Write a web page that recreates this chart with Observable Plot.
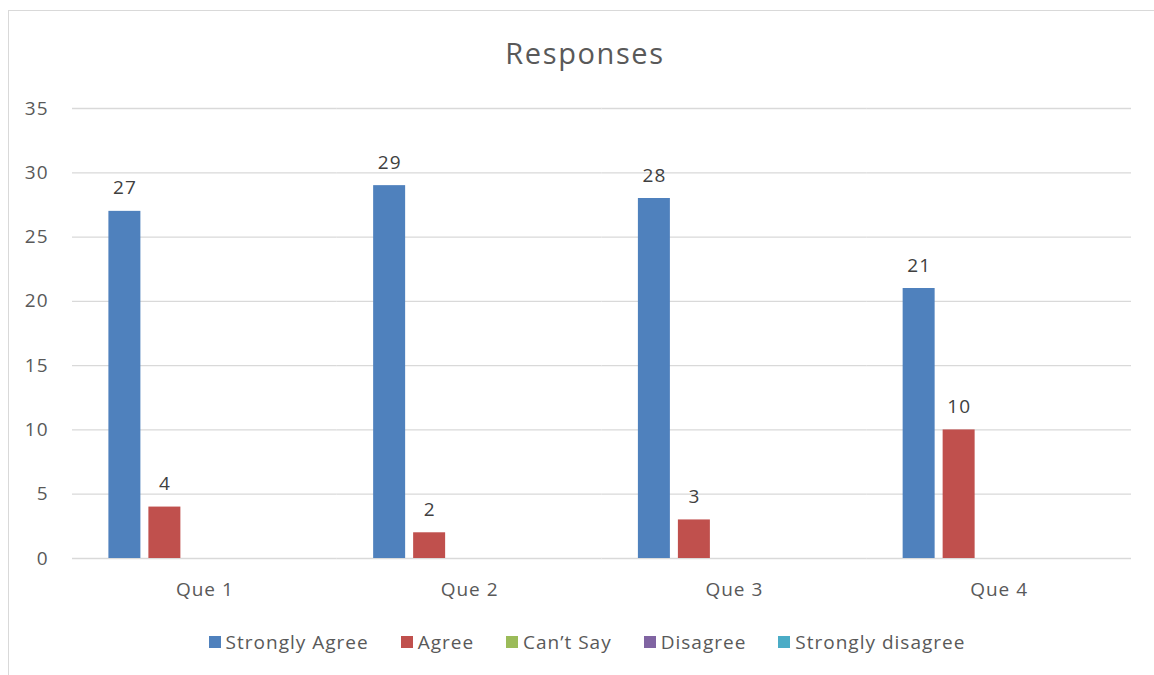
<!DOCTYPE html>
<html>
<head>
<meta charset="utf-8">
<script src="https://cdn.jsdelivr.net/npm/d3@7"></script>
<script src="https://cdn.jsdelivr.net/npm/@observablehq/plot@0.6"></script>
<style>
  html, body { margin: 0; padding: 0; background: #fff; }
  #wrap { position: relative; width: 1154px; height: 675px; overflow: hidden; font-family: "Open Sans", sans-serif; }
  #frame { position: absolute; left: 8px; top: 10px; width: 1150px; height: 680px; border: 1px solid #d9d9d9; box-sizing: border-box; }
  #title { position: absolute; left: 0; width: 1170px; top: 33px; text-align: center; font-size: 29px; color: #595959; letter-spacing: 1.6px; line-height: 40px; }
  #chart { position: absolute; left: 0; top: 80px; }
  #legend { position: absolute; left: 0; width: 1174px; top: 628px; display: flex; justify-content: center; gap: 32px; font-size: 19px; letter-spacing: 1px; color: #595959; line-height: 28px; }
  .item { display: flex; align-items: center; gap: 5px; }
  .sw { width: 12px; height: 12px; display: inline-block; }
</style>
</head>
<body>
<div id="wrap">
  <div id="frame"></div>
  <div id="title">Responses</div>
  <div id="chart"></div>
  <div id="legend"></div>
</div>
<script>
const questions = ["Que 1", "Que 2", "Que 3", "Que 4"];
const series = ["Strongly Agree", "Agree", "Can’t Say", "Disagree", "Strongly disagree"];
const stronglyAgree = [27, 29, 28, 21];
const agree = [4, 2, 3, 10];
const cantSay = [null, null, null, null];
const disagree = [null, null, null, null];
const stronglyDisagree = [null, null, null, null];
const colors = ["#4F81BD", "#C0504D", "#9BBB59", "#8064A2", "#4BACC6"];
const yTicks = [0, 5, 10, 15, 20, 25, 30, 35];

const valuesBySeries = [stronglyAgree, agree, cantSay, disagree, stronglyDisagree];
const data = [];
questions.forEach((q, i) => {
  series.forEach((s, j) => {
    data.push({q, s, v: valuesBySeries[j][i]});
  });
});
const labeled = data.filter(d => d.v != null);

const chart = Plot.plot({
  width: 1154,
  height: 523,
  marginLeft: 72,
  marginRight: 23,
  marginTop: 28,
  marginBottom: 45,
  style: {fontFamily: "Open Sans", fontSize: "19px", color: "#595959", letterSpacing: "1px", background: "transparent"},
  fx: {domain: questions, padding: 0, round: false, axis: "bottom", tickSize: 0, tickPadding: 24, label: null},
  x: {domain: series, axis: null, round: false, paddingInner: 0.2, paddingOuter: 0.91},
  y: {domain: [0, 35], ticks: yTicks, tickSize: 0, tickPadding: 24, label: null, tickFormat: d => String(d)},
  color: {domain: series, range: colors},
  marks: [
    Plot.ruleY(yTicks, {y: d => d, stroke: "#d9d9d9", strokeWidth: 1.3}),
    Plot.barY(data.filter(d => d.v != null), {fx: "q", x: "s", y: "v", fill: "s"}),
    Plot.text(labeled, {fx: "q", x: "s", y: "v", text: d => String(d.v), lineAnchor: "bottom", dy: -17, fill: "#404040", fontSize: 19})
  ]
});
document.getElementById("chart").appendChild(chart);

const legend = document.getElementById("legend");
series.forEach((s, j) => {
  const it = document.createElement("div");
  it.className = "item";
  const sw = document.createElement("span");
  sw.className = "sw";
  sw.style.background = colors[j];
  const t = document.createElement("span");
  t.textContent = s;
  it.appendChild(sw);
  it.appendChild(t);
  legend.appendChild(it);
});
</script>
</body>
</html>
